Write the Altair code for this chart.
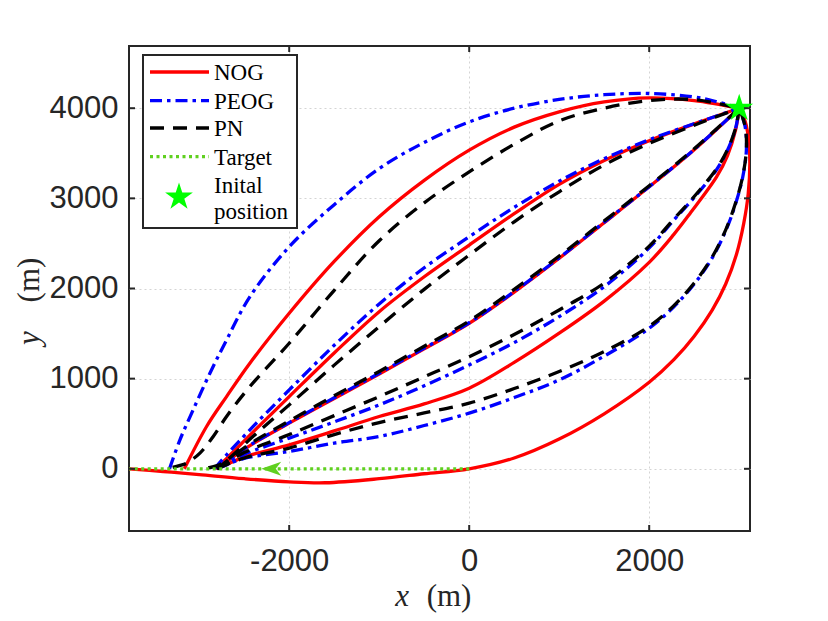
import altair as alt
import pandas as pd

# ---------------- data ----------------
START_X, START_Y = 3000, 4000

# NOG (red, solid)
NOG_1_X = [-3165, -2918, -2696, -2437, -2000, -1500, -1000, -500, 0, 500, 1000, 1500, 2000, 2500, 3000]
NOG_1_Y = [0, 469, 801, 1171, 1725, 2300, 2796, 3200, 3535, 3790, 3960, 4070, 4115, 4085, 4000]
NOG_2_X = [-2820, -2700, -2400, -2000, -1500, -1000, -500, 0, 500, 1000, 1500, 2000, 2563, 3000]
NOG_2_Y = [0, 110, 410, 801, 1285, 1743, 2130, 2482, 2830, 3155, 3420, 3640, 3848, 4000]
NOG_3_X = [-2800, -2600, -2400, -2000, -1500, -1000, -500, 0, 500, 1000, 1500, 2000, 2500, 3000]
NOG_3_Y = [0, 150, 280, 506, 780, 1052, 1330, 1614, 1960, 2335, 2730, 3128, 3540, 4000]
NOG_4_X = [-2800, -2500, -2000, -1500, -1000, -500, 0, 500, 1000, 1500, 2000, 2274, 2452, 2750, 2870, 2960, 3000]
NOG_4_Y = [0, 130, 266, 420, 580, 720, 894, 1180, 1504, 1860, 2290, 2600, 2830, 3240, 3475, 3760, 4000]
NOG_5_X = [-3780, -3400, -3000, -2500, -2000, -1600, -1000, -500, 0, 500, 1000, 1500, 2000, 2274, 2500,
           2700, 2850, 2970, 3050, 3100, 3118, 3100, 3055, 3000]
NOG_5_Y = [0, -30, -65, -110, -145, -155, -110, -55, 0, 120, 330, 610, 960, 1210, 1470,
           1760, 2050, 2380, 2720, 3050, 3400, 3700, 3890, 4000]

# PEOG (blue, dash-dot)
PEOG_1_X = [-3330, -3214, -3067, -2881, -2696, -2436, -2000, -1500, -1000, -500, 0, 500, 1000, 1500, 2000, 2500, 2750, 3000]
PEOG_1_Y = [0, 321, 654, 1060, 1429, 1910, 2463, 2930, 3330, 3620, 3848, 4000, 4097, 4150, 4163, 4125, 4072, 4000]
PEOG_2_X = [-2830, -2700, -2400, -2000, -1500, -1000, -500, 0, 500, 1000, 1500, 2000, 2563, 3000]
PEOG_2_Y = [0, 150, 470, 875, 1370, 1828, 2230, 2574, 2900, 3191, 3440, 3650, 3850, 4000]
PEOG_3_X = [-2800, -2600, -2400, -2000, -1500, -1000, -500, 0, 500, 1000, 1500, 2000, 2500, 3000]
PEOG_3_Y = [0, 152, 284, 512, 788, 1060, 1338, 1620, 1966, 2340, 2735, 3130, 3542, 4000]
PEOG_4_X = [-2800, -2500, -2000, -1500, -1000, -500, 0, 500, 1000, 1500, 2000, 2274, 2500, 2750, 2870, 2960, 3000]
PEOG_4_Y = [0, 160, 340, 520, 709, 920, 1152, 1400, 1688, 2020, 2450, 2760, 3010, 3320, 3535, 3778, 4000]
PEOG_5_X = [-2800, -2500, -2000, -1500, -1000, -500, 0, 500, 1000, 1500, 2000, 2274, 2500, 2700, 2850,
            2960, 3040, 3080, 3065, 3000]
PEOG_5_Y = [0, 115, 192, 285, 358, 480, 617, 790, 986, 1250, 1559, 1798, 2050, 2340, 2640,
            2940, 3240, 3540, 3800, 4000]

# PN (black, dashed)
PN_1_X = [-3295, -3220, -3140, -2992, -2844, -2696, -2437, -2000, -1500, -1000, -500, 0, 500, 1000, 1500, 2000, 2500, 3000]
PN_1_Y = [15, 35, 63, 174, 358, 580, 912, 1393, 1980, 2530, 2950, 3294, 3600, 3860, 4000, 4085, 4095, 4000]
PN_2_X = [-2900, -2800, -2700, -2400, -2000, -1500, -1000, -500, 0, 500, 1000, 1500, 2000, 2563, 3000]
PN_2_Y = [10, 35, 90, 360, 709, 1150, 1577, 1990, 2371, 2740, 3073, 3370, 3610, 3835, 4000]
PN_3_X = [-2800, -2600, -2400, -2000, -1500, -1000, -500, 0, 500, 1000, 1500, 2000, 2500, 3000]
PN_3_Y = [0, 160, 300, 530, 810, 1080, 1360, 1640, 1990, 2360, 2750, 3140, 3550, 4000]
PN_4_X = [-2800, -2500, -2000, -1500, -1000, -500, 0, 500, 1000, 1500, 2000, 2274, 2500, 2750, 2870, 2960, 3000]
PN_4_Y = [0, 180, 380, 590, 801, 1020, 1244, 1490, 1762, 2060, 2470, 2770, 3020, 3330, 3540, 3780, 4000]
PN_5_X = [-2800, -2500, -2000, -1500, -1000, -500, 0, 500, 1000, 1500, 2000, 2274, 2500, 2700, 2850,
          2960, 3040, 3080, 3065, 3000]
PN_5_Y = [0, 120, 230, 380, 513, 620, 728, 890, 1080, 1300, 1580, 1810, 2060, 2350, 2650,
          2950, 3250, 3550, 3800, 4000]

# Target (green, dotted) and its direction arrow
TARGET_X = [0, -3780]
TARGET_Y = [0, 0]
ARROW_X, ARROW_Y = -2200, 0

X_TICKS = [-2000, 0, 2000]
Y_TICKS = [0, 1000, 2000, 3000, 4000]
X_DOMAIN = [-3780, 3120]
Y_DOMAIN = [-690, 4690]

LEGEND_LABELS = ["NOG", "PEOG", "PN", "Target"]

# ---------------- styling ----------------
W, H = 621, 485
RED, BLUE, BLACK, GREEN, STAR = "#ff0000", "#0000ff", "#000000", "#5fd01f", "#00ff00"
AXC = "#262626"
LW = 3.3
DASH = {"NOG": None, "PEOG": [12, 5, 3.5, 5], "PN": [14, 9], "Target": [3, 3.5]}
COLOR = {"NOG": RED, "PEOG": BLUE, "PN": BLACK, "Target": GREEN}
STAR_PATH = ("M 0 -1 L 0.2245 -0.309 L 0.9511 -0.309 L 0.3633 0.118 L 0.5878 0.809 L 0 0.382 "
             "L -0.5878 0.809 L -0.3633 0.118 L -0.9511 -0.309 L -0.2245 -0.309 Z")
ARROW_PATH = "M -1 0 L 1 -0.7 L 0.45 0 L 1 0.7 Z"

curves = {
    "NOG": [(NOG_1_X, NOG_1_Y), (NOG_2_X, NOG_2_Y), (NOG_3_X, NOG_3_Y), (NOG_4_X, NOG_4_Y), (NOG_5_X, NOG_5_Y)],
    "PEOG": [(PEOG_1_X, PEOG_1_Y), (PEOG_2_X, PEOG_2_Y), (PEOG_3_X, PEOG_3_Y), (PEOG_4_X, PEOG_4_Y), (PEOG_5_X, PEOG_5_Y)],
    "PN": [(PN_1_X, PN_1_Y), (PN_2_X, PN_2_Y), (PN_3_X, PN_3_Y), (PN_4_X, PN_4_Y), (PN_5_X, PN_5_Y)],
}
rows = []
for series, lst in curves.items():
    for ci, (xs, ys) in enumerate(lst):
        for i, (xv, yv) in enumerate(zip(xs, ys)):
            rows.append({"series": series, "curve": f"{series}{ci}", "idx": i, "x": xv, "y": yv})
df = pd.DataFrame(rows)

xsc = alt.Scale(domain=X_DOMAIN, nice=False, zero=False)
ysc = alt.Scale(domain=Y_DOMAIN, nice=False, zero=False)
common_axis = dict(grid=True, gridColor="#d4d4d4", gridDash=[2, 3], gridWidth=1, ticks=False, tickSize=0,
                   domain=False, labelFont="Liberation Sans", labelFontSize=31, labelColor=AXC,
                   title=None, labelExpr="'' + datum.value")
xax = alt.Axis(values=X_TICKS, labelPadding=15, **common_axis)
yax = alt.Axis(values=Y_TICKS, labelPadding=11, **common_axis)


def X(field="x"):
    return alt.X(f"{field}:Q", scale=xsc, axis=xax)


def Y(field="y"):
    return alt.Y(f"{field}:Q", scale=ysc, axis=yax)


def curve_layer(series):
    kw = dict(color=COLOR[series], strokeWidth=LW, interpolate="catmull-rom", clip=True)
    if DASH[series]:
        kw["strokeDash"] = DASH[series]
    return alt.Chart(df[df.series == series]).mark_line(**kw).encode(
        x=X(), y=Y(), detail="curve:N", order="idx:Q")


layers = [curve_layer("NOG"), curve_layer("PEOG"), curve_layer("PN")]

tdf = pd.DataFrame({"x": TARGET_X, "y": TARGET_Y, "idx": list(range(len(TARGET_X)))})
layers.append(alt.Chart(tdf).mark_line(color=GREEN, strokeWidth=LW, strokeDash=DASH["Target"], clip=True)
              .encode(x=X(), y=Y(), order="idx:Q"))

layers.append(alt.Chart(pd.DataFrame({"x": [ARROW_X], "y": [ARROW_Y]}))
              .mark_point(shape=ARROW_PATH, filled=True, color=GREEN, size=400, opacity=1)
              .encode(x=X(), y=Y()))

layers.append(alt.Chart(pd.DataFrame({"x": [START_X], "y": [START_Y]}))
              .mark_point(shape=STAR_PATH, filled=True, color=STAR, size=850, opacity=1)
              .encode(x=X(), y=Y()))

# inward ticks on all four sides
xt = pd.DataFrame({"v": X_TICKS})
yt = pd.DataFrame({"v": Y_TICKS})
TL = 6
layers += [
    alt.Chart(xt).mark_rule(color=AXC, strokeWidth=2).encode(x=X("v"), y=alt.value(H), y2=alt.value(H - TL)),
    alt.Chart(xt).mark_rule(color=AXC, strokeWidth=2).encode(x=X("v"), y=alt.value(0), y2=alt.value(TL)),
    alt.Chart(yt).mark_rule(color=AXC, strokeWidth=2).encode(y=Y("v"), x=alt.value(0), x2=alt.value(TL)),
    alt.Chart(yt).mark_rule(color=AXC, strokeWidth=2).encode(y=Y("v"), x=alt.value(W), x2=alt.value(W - TL)),
]

# axis titles (LaTeX-like: italic variable, upright unit)
one = pd.DataFrame({"a": [0]})
TF = "Liberation Serif"
TS = 31
layers += [
    alt.Chart(one).mark_text(text="x", font=TF, fontStyle="italic", fontSize=TS, color=AXC, baseline="alphabetic")
    .encode(x=alt.value(273), y=alt.value(560)),
    alt.Chart(one).mark_text(text="(m)", font=TF, fontSize=TS, color=AXC, baseline="alphabetic")
    .encode(x=alt.value(320), y=alt.value(560)),
    alt.Chart(one).mark_text(text="y", font=TF, fontStyle="italic", fontSize=TS, color=AXC, baseline="middle", angle=270)
    .encode(x=alt.value(-99), y=alt.value(292)),
    alt.Chart(one).mark_text(text="(m)", font=TF, fontSize=TS, color=AXC, baseline="middle", angle=270)
    .encode(x=alt.value(-99), y=alt.value(234)),
]

# legend box
LX0, LY0, LX1, LY1 = 14, 9, 168, 182
layers.append(alt.Chart(one).mark_rect(fill="white", stroke=AXC, strokeWidth=2)
              .encode(x=alt.value(LX0), x2=alt.value(LX1), y=alt.value(LY0), y2=alt.value(LY1)))
LEG_Y = [26, 54.7, 82, 110.7]
for lab, ly in zip(LEGEND_LABELS, LEG_Y):
    kw = dict(color=COLOR[lab], strokeWidth=LW)
    if DASH[lab]:
        kw["strokeDash"] = DASH[lab]
    layers.append(alt.Chart(one).mark_rule(**kw)
                  .encode(x=alt.value(21), x2=alt.value(80), y=alt.value(ly)))
    layers.append(alt.Chart(one).mark_text(text=lab, font=TF, fontSize=23, color="black", align="left",
                                           baseline="middle")
                  .encode(x=alt.value(85), y=alt.value(ly + 1)))
layers.append(alt.Chart(one).mark_point(shape=STAR_PATH, filled=True, color=STAR, size=850, opacity=1)
              .encode(x=alt.value(50), y=alt.value(151)))
layers.append(alt.Chart(one).mark_text(text="Inital", font=TF, fontSize=23, color="black", align="left",
                                       baseline="middle").encode(x=alt.value(85), y=alt.value(140)))
layers.append(alt.Chart(one).mark_text(text="position", font=TF, fontSize=23, color="black", align="left",
                                       baseline="middle").encode(x=alt.value(85), y=alt.value(166)))

chart = alt.layer(*layers).properties(
    width=W, height=H,
    autosize=alt.AutoSizeParams(type="none"),
    padding={"left": 121, "top": 38, "right": 70, "bottom": 82},
    background="white",
).configure_view(stroke=AXC, strokeWidth=2)

chart.save("out.html", embed_options={"renderer": "svg", "actions": False})
